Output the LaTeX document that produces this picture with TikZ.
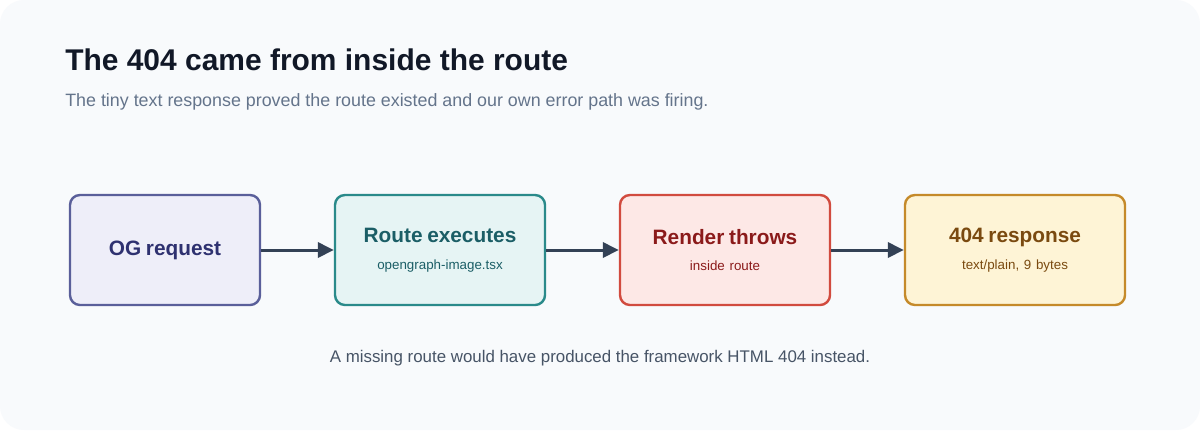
\documentclass[tikz,border=0pt]{standalone}
\usepackage{fontspec}
\setmainfont{Liberation Sans}
\usetikzlibrary{positioning, arrows.meta}
\definecolor{bgcard}{HTML}{F8FAFC}
\definecolor{inkdark}{HTML}{111827}
\definecolor{inkgray}{HTML}{64748B}
\definecolor{arrowc}{HTML}{334155}
\definecolor{ogfill}{HTML}{EEEEF9}\definecolor{ogdraw}{HTML}{5A5F9A}\definecolor{ogtext}{HTML}{2E3170}
\definecolor{rtfill}{HTML}{E6F4F4}\definecolor{rtdraw}{HTML}{2A8A8A}\definecolor{rttext}{HTML}{1B5E66}
\definecolor{rnfill}{HTML}{FDE8E6}\definecolor{rndraw}{HTML}{D14B3F}\definecolor{rntext}{HTML}{8B1A1A}
\definecolor{rsfill}{HTML}{FEF4D6}\definecolor{rsdraw}{HTML}{C58A2A}\definecolor{rstext}{HTML}{7A4A10}
\newcommand\stagename[1]{{\fontsize{14.8}{17}\selectfont\bfseries #1}}
\newcommand\stagenote[1]{{\fontsize{9.5}{11}\selectfont\mdseries #1}}
\tikzset{
  arrow/.style = {line width=0.75mm, -{Triangle[length=4mm,width=3.8mm]}, draw=arrowc},
  stage/.style = {rectangle, rounded corners=2.5mm, line width=0.6mm, minimum height=2.75cm, align=center, text width=4.5cm}
}
\begin{document}
\begin{tikzpicture}[x=0.025cm, y=-0.025cm]
  \fill[white] (0,0) rectangle (1200,430);
  \fill[bgcard] (0,0) [rounded corners=0.6cm] rectangle (1200,430);
  \useasboundingbox (0,0) rectangle (1200,430);

  \node (title) [anchor=base west, text=inkdark, font=\fontsize{21.3}{24}\selectfont\bfseries, inner sep=0] at (65,70) {The 404 came from inside the route};
  \node (subtitle) [anchor=base west, text=inkgray, font=\fontsize{12.7}{15}\selectfont, inner sep=0] at (65,106) {The tiny text response proved the route existed and our own error path was firing.};

  \node (og) [stage, minimum width=4.75cm, text width=4cm, fill=ogfill, draw=ogdraw, text=ogtext] at (165,250) {\stagename{OG request}};
  \node (route) [stage, minimum width=5.25cm, fill=rtfill, draw=rtdraw, text=rttext] at (440,250) {\stagename{Route executes}\\[2.5mm]\stagenote{opengraph-image.tsx}};
  \node (render) [stage, minimum width=5.25cm, fill=rnfill, draw=rndraw, text=rntext] at (725,250) {\stagename{Render throws}\\[2.5mm]\stagenote{inside route}};
  \node (resp) [stage, minimum width=5.5cm, fill=rsfill, draw=rsdraw, text=rstext] at (1015,250) {\stagename{404 response}\\[2.5mm]\stagenote{text/plain, 9 bytes}};

  \draw [arrow] (og) -- (route);
  \draw [arrow] (route) -- (render);
  \draw [arrow] (render) -- (resp);

  \node (footer) [text=arrowc!90!white, font=\fontsize{12}{14}\selectfont] at (600,358) {A missing route would have produced the framework HTML 404 instead.};
\end{tikzpicture}
\end{document}
